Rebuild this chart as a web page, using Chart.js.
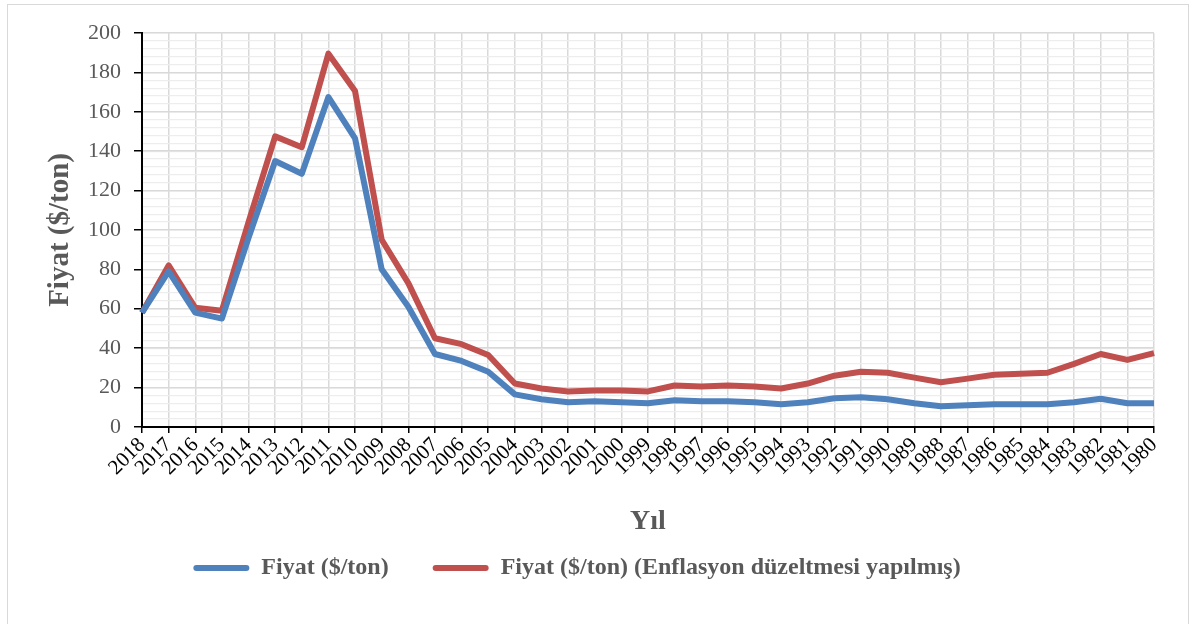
<!DOCTYPE html>
<html>
<head>
<meta charset="utf-8">
<script src="https://cdn.jsdelivr.net/npm/chart.js@4.4.1/dist/chart.umd.min.js"></script>
<style>
html,body{margin:0;padding:0;background:#fff;}
#wrap{position:relative;width:1198px;height:624px;}
#frame{position:absolute;left:7px;top:4px;width:1182px;height:640px;border:1.5px solid #d9d9d9;box-sizing:border-box;}
canvas{position:absolute;left:0;top:0;}
</style>
</head>
<body>
<div id="wrap"><div id="frame"></div><canvas id="c" width="1198" height="624"></canvas></div>
<script>
const years = ['2018','2017','2016','2015','2014','2013','2012','2011','2010','2009','2008','2007','2006','2005','2004','2003','2002','2001','2000','1999','1998','1997','1996','1995','1994','1993','1992','1991','1990','1989','1988','1987','1986','1985','1984','1983','1982','1981','1980'];
const fiyat = [58,79,58,55,96,135,128.5,167.5,146.5,80,61,37,33.5,28,16.5,14,12.5,13,12.5,12,13.5,13,13,12.5,11.5,12.5,14.5,15,14,12,10.5,11,11.5,11.5,11.5,12.5,14.3,12,12];
const fiyatEnf = [58,82,60.5,59,104,147.5,142,189.5,170.5,95,73,45,42,36.5,22,19.5,18,18.5,18.5,18,21,20.5,21,20.5,19.5,22,26,28,27.5,25,22.7,24.5,26.5,27,27.5,32,37,34,37.5];
const seriesNames = ['Fiyat ($/ton)', 'Fiyat ($/ton) (Enflasyon düzeltmesi yapılmış)'];
const yTitle = 'Fiyat ($/ton)';
const xTitle = 'Yıl';

const serif = "'Liberation Serif', 'Times New Roman', serif";
new Chart(document.getElementById('c'), {
  type: 'line',
  data: {
    labels: years,
    datasets: [
      {label: seriesNames[0], data: fiyat, borderColor: '#4f81bd', backgroundColor: '#4f81bd', borderWidth: 6, pointRadius: 0, tension: 0, borderJoinStyle: 'round'},
      {label: seriesNames[1], data: fiyatEnf, borderColor: '#c0504d', backgroundColor: '#c0504d', borderWidth: 6, pointRadius: 0, tension: 0, borderJoinStyle: 'round'}
    ]
  },
  options: {
    responsive: false,
    animation: false,
    devicePixelRatio: 1,
    layout: {padding: {left: 0, right: 44, top: 33, bottom: 34}},
    plugins: {
      tooltip: {enabled: false},
      legend: {
        position: 'bottom',
        labels: {
          font: {family: serif, size: 24, weight: 'bold'},
          color: '#595959',
          boxWidth: 56, boxHeight: 6, padding: 44,
          useBorderRadius: true, borderRadius: 3,
          generateLabels: (chart) => Chart.defaults.plugins.legend.labels.generateLabels(chart).map(l => Object.assign(l, {lineWidth: 0}))
        }
      }
    },
    scales: {
      x: {
        offset: false,
        grid: {color: '#d9d9d9', lineWidth: 1.5, drawTicks: true, tickLength: 6, tickColor: '#000', tickWidth: 1.5},
        border: {color: '#000', width: 2},
        ticks: {minRotation: 45, maxRotation: 45, autoSkip: false, color: '#000', font: {family: serif, size: 21}, padding: 0},
        title: {display: true, text: xTitle, color: '#595959', font: {family: serif, size: 28, weight: 'bold'}, padding: {top: 25, bottom: -27}}
      },
      y2: {
        min: 0, max: 200, position: 'left',
        ticks: {stepSize: 4, display: false},
        grid: {color: '#ededed', lineWidth: 1.2, drawTicks: false},
        border: {display: false},
        afterFit: (s) => { s.width = 0; }
      },
      y: {
        min: 0, max: 200, position: 'left',
        ticks: {stepSize: 20, color: '#595959', font: {family: serif, size: 22}, padding: 13},
        grid: {color: '#d9d9d9', lineWidth: 1.5, tickLength: 8, tickColor: '#000', tickWidth: 1.5},
        border: {color: '#000', width: 2},
        title: {display: true, text: yTitle, color: '#595959', font: {family: serif, size: 29, weight: 'bold'}, padding: {top: 43, bottom: 0}},
        afterFit: (s) => { s.width = 142; }
      }
    }
  }
});
</script>
</body>
</html>
